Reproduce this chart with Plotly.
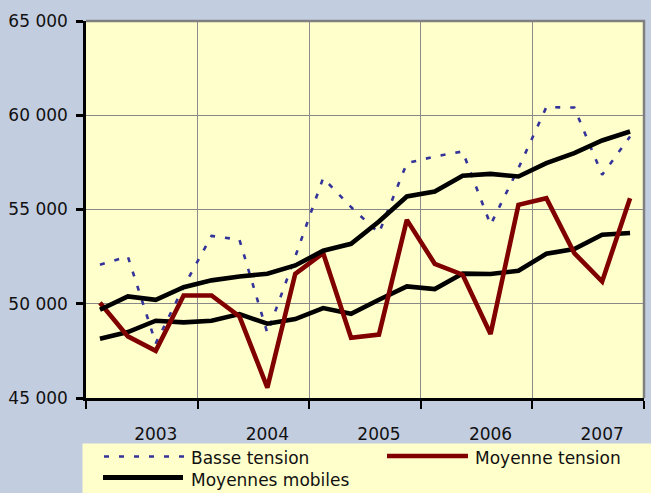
import plotly.graph_objects as go

# ---- data ----
years = ["2003", "2004", "2005", "2006", "2007"]
quarters = list(range(20))
basse_tension = [52070, 52510, 47900, 50900, 53600, 53400, 48450, 52500, 56670, 55130,
                 53750, 57460, 57810, 58080, 54190, 57190, 60430, 60410, 56840, 58870]
moyenne_tension = [50050, 48270, 47500, 50440, 50440, 49330, 45550, 51590, 52690, 48200,
                   48360, 54450, 52120, 51540, 48400, 55250, 55600, 52690, 51180, 55600]
mm_basse = [49680, 50390, 50210, 50880, 51240, 51450, 51590, 52030, 52810, 53180,
            54360, 55690, 55950, 56790, 56890, 56750, 57460, 57990, 58660, 59140]
mm_moyenne = [48140, 48500, 49100, 49010, 49100, 49450, 48940, 49190, 49770, 49470,
              50210, 50920, 50780, 51600, 51580, 51750, 52650, 52900, 53660, 53750]
series_names = ["Basse tension", "Moyenne tension", "Moyennes mobiles"]
year_positions = [2, 6, 10, 14, 18]

W, H = 651, 493
L, R, T, B = 86, 7, 21, 95
PW, PH = W - L - R, H - T - B

BLUE = "#333399"
RED = "#800000"
BLACK = "#000000"
FONT = "DejaVu Sans"
FS = 17

fig = go.Figure()
fig.add_trace(go.Scatter(x=quarters, y=basse_tension, mode="lines", name=series_names[0],
                         line=dict(color=BLUE, width=2.6, dash="5px,10px"), showlegend=False))
fig.add_trace(go.Scatter(x=quarters, y=mm_moyenne, mode="lines", name=series_names[2],
                         line=dict(color=BLACK, width=4.6), showlegend=False))
fig.add_trace(go.Scatter(x=quarters, y=moyenne_tension, mode="lines", name=series_names[1],
                         line=dict(color=RED, width=4.6), showlegend=False))
fig.add_trace(go.Scatter(x=quarters, y=mm_basse, mode="lines", name=series_names[2],
                         line=dict(color=BLACK, width=4.6), showlegend=False))


def px_x(px):
    return (px - L) / PW


def px_y(py):
    return (H - B - py) / PH


shapes = [
    # top and right plot border (gray)
    dict(type="path", xref="paper", yref="paper", path="M0,1 L1,1 L1,0",
         line=dict(color="#808080", width=2.5), layer="above"),
    # legend background
    dict(type="rect", xref="paper", yref="paper", x0=px_x(82.5), x1=px_x(660),
         y0=px_y(443.5), y1=px_y(500), fillcolor="#ffffcc", line=dict(width=0), layer="below"),
    # legend samples
    dict(type="line", xref="paper", yref="paper", x0=px_x(104), x1=px_x(184),
         y0=px_y(456.5), y1=px_y(456.5), line=dict(color=BLUE, width=2.6, dash="5px,10px")),
    dict(type="line", xref="paper", yref="paper", x0=px_x(387), x1=px_x(468),
         y0=px_y(456), y1=px_y(456), line=dict(color=RED, width=4.6)),
    dict(type="line", xref="paper", yref="paper", x0=px_x(103), x1=px_x(183),
         y0=px_y(477.5), y1=px_y(477.5), line=dict(color=BLACK, width=5)),
]

annotations = [
    dict(text=series_names[0], x=px_x(189), y=px_y(458), xref="paper", yref="paper",
         xanchor="left", yanchor="middle", showarrow=False, font=dict(family=FONT, size=FS, color="#111111")),
    dict(text=series_names[1], x=px_x(473), y=px_y(458), xref="paper", yref="paper",
         xanchor="left", yanchor="middle", showarrow=False, font=dict(family=FONT, size=FS, color="#111111")),
    dict(text=series_names[2], x=px_x(189), y=px_y(480), xref="paper", yref="paper",
         xanchor="left", yanchor="middle", showarrow=False, font=dict(family=FONT, size=FS, color="#111111")),
]

fig.update_layout(
    width=W, height=H,
    margin=dict(l=L, r=R, t=T, b=B, pad=0),
    paper_bgcolor="#c3cde0",
    plot_bgcolor="#ffffcc",
    separators=". ",
    font=dict(family=FONT, size=FS, color="#111111"),
    showlegend=False,
    shapes=shapes,
    annotations=annotations,
    xaxis=dict(
        range=[-0.5, 19.5], tickmode="array", tickvals=year_positions, ticktext=years,
        ticks="", showgrid=False, zeroline=False,
        showline=True, linecolor=BLACK, linewidth=2.5,
        ticklabelstandoff=19,
        minor=dict(tick0=-0.5, dtick=4, ticks="outside", ticklen=8, tickwidth=2,
                   tickcolor=BLACK, showgrid=True, gridcolor="#8c8c8c", gridwidth=1),
    ),
    yaxis=dict(
        range=[45000, 65000], dtick=5000, tickformat=",",
        ticks="outside", ticklen=7, tickwidth=2.5, tickcolor=BLACK,
        showgrid=True, gridcolor="#888888", gridwidth=1, zeroline=False,
        showline=True, linecolor=BLACK, linewidth=2.5,
        ticklabelstandoff=5,
    ),
)

fig.write_html(
    "out.html",
    config={"displayModeBar": False},
    post_script="document.body.style.margin='0px';document.body.style.overflow='hidden';",
)
